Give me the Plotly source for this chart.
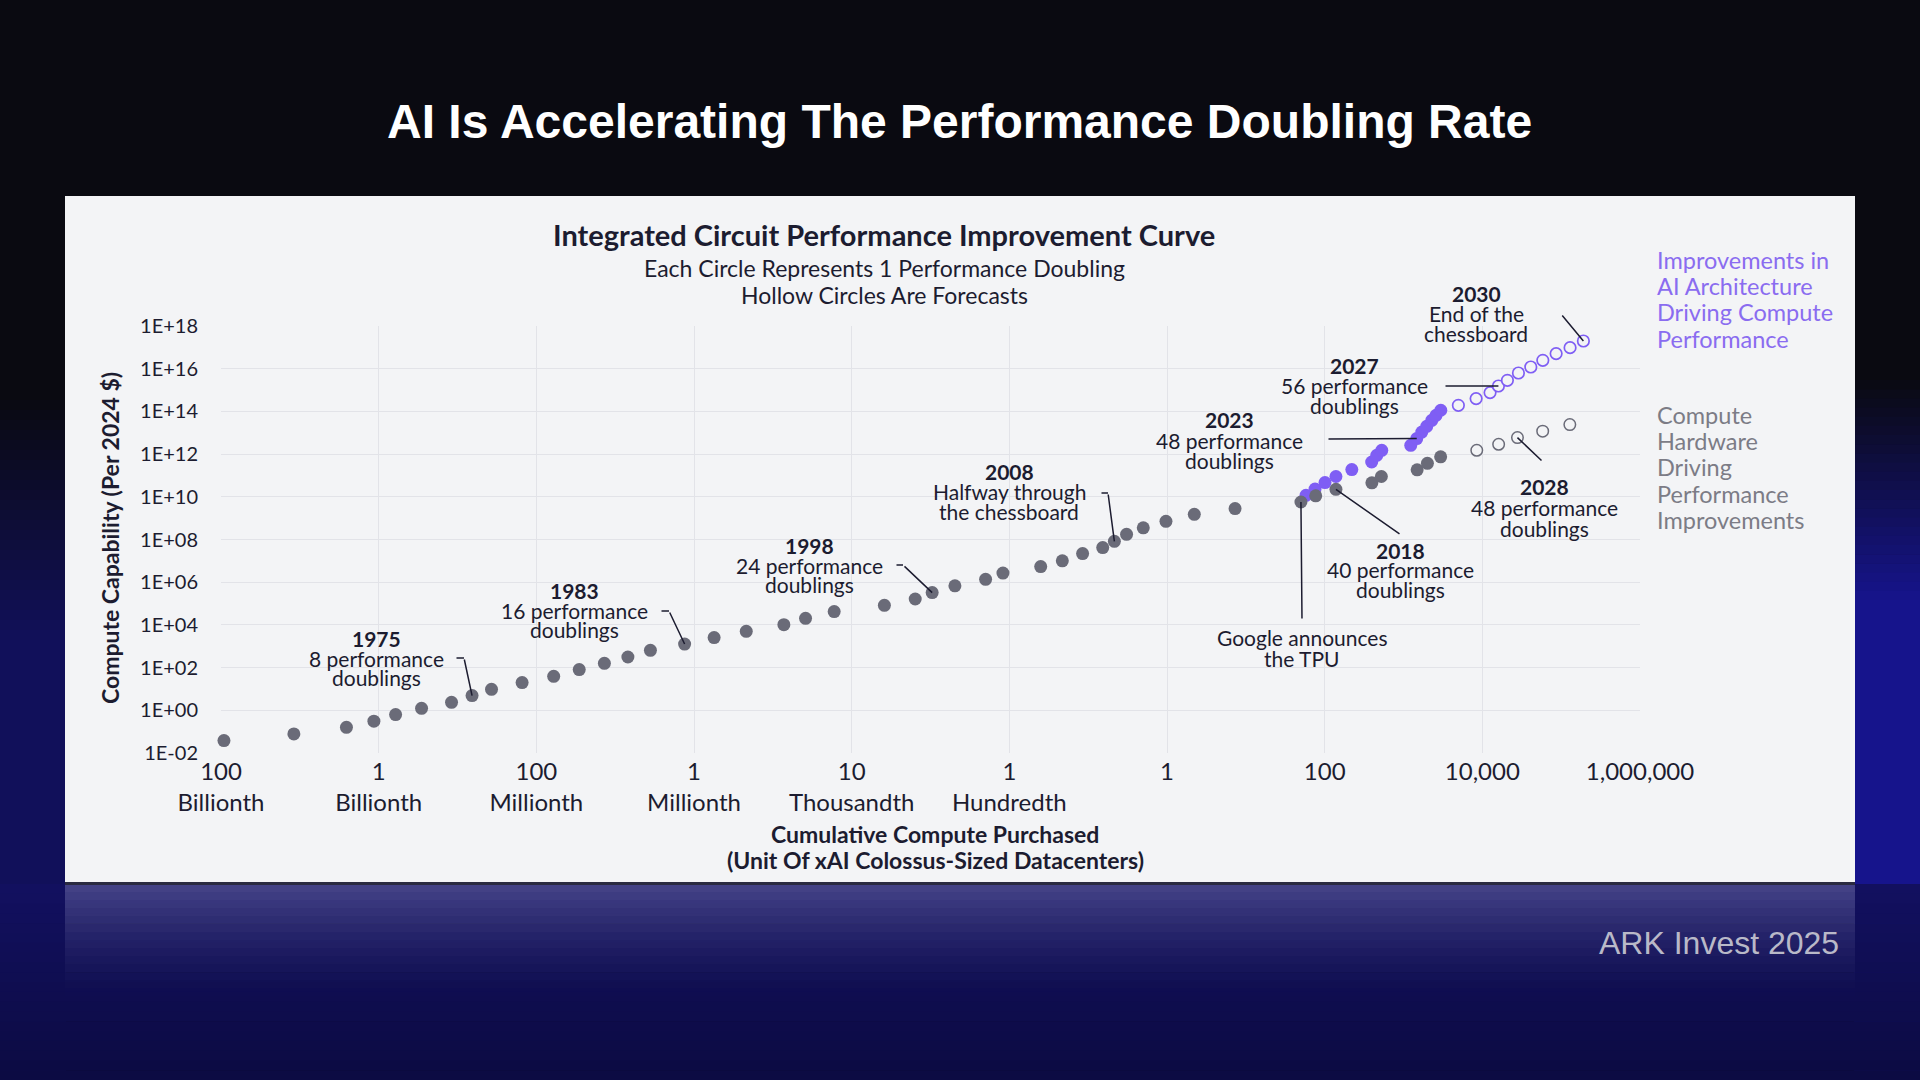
import math
import plotly.graph_objects as go

# ---------------- DATA ----------------
# Compute hardware driving performance (gray), actual doublings 1..45
gray_x = [1.09e-12, 8.4e-12, 3.9e-11, 8.7e-11, 1.64e-10, 3.5e-10, 8.4e-10, 1.53e-9, 2.7e-9, 6.6e-9,
          1.66e-8, 3.5e-8, 7.3e-8, 1.45e-7, 2.8e-7, 7.6e-7, 1.8e-6, 4.6e-6, 1.38e-5, 2.6e-5,
          6.0e-5, 2.6e-4, 6.4e-4, 1.05e-3, 2.04e-3, 5.0e-3, 8.3e-3, 0.025, 0.047, 0.085,
          0.153, 0.215, 0.307, 0.50, 0.97, 2.22, 7.3, 50, 77, 139,
          397, 524, 1490, 2010, 2960]
gray_y = [0.038, 0.078, 0.16, 0.31, 0.63, 1.24, 2.37, 4.9, 9.6, 19.8,
          39, 81, 159, 313, 646, 1270, 2540, 5010, 10300, 20400,
          42000, 82800, 163000, 326000, 678000, 1.37e6, 2.67e6, 5.38e6, 1.0e7, 2.19e7,
          4.18e7, 8.24e7, 1.75e8, 3.53e8, 7.11e8, 1.51e9, 2.8e9, 5.7e9, 1.11e10, 2.24e10,
          4.53e10, 8.93e10, 1.84e11, 3.71e11, 7.48e11]
# Gray forecasts (hollow)
gray_fc_x = [8500, 16100, 27900, 58300, 128800]
gray_fc_y = [1.51e12, 2.88e12, 5.93e12, 1.19e13, 2.41e13]

# AI architecture driving compute performance (purple), actual
purple_x = [58, 75.5, 101, 139, 221, 395, 458, 530, 1236, 1472, 1706, 1972, 2285, 2588, 2972]
purple_y = [1.17e10, 2.32e10, 4.62e10, 8.93e10, 1.88e11, 4.27e11, 8.79e11, 1.51e12,
            2.58e12, 5.32e12, 1.08e13, 2.0e13, 3.83e13, 6.56e13, 1.13e14]
# Purple forecasts (hollow)
purple_fc_x = [4966, 8337, 12530, 16000, 20800, 28700, 41200, 58500, 86300, 129700, 191400]
purple_fc_y = [1.93e14, 3.98e14, 7.6e14, 1.55e15, 2.86e15, 6.3e15, 1.2e16, 2.47e16, 5.1e16, 9.7e16, 1.98e17]

x_tickvals = [1e-12, 1e-10, 1e-8, 1e-6, 1e-4, 1e-2, 1, 100, 1e4, 1e6]
x_ticktext = ["100<br>Billionth", "1<br>Billionth", "100<br>Millionth", "1<br>Millionth",
              "10<br>Thousandth", "1<br>Hundredth", "1", "100", "10,000", "1,000,000"]
y_tickvals = [1e-2, 1, 1e2, 1e4, 1e6, 1e8, 1e10, 1e12, 1e14, 1e16, 1e18]
y_ticktext = ["1E-02", "1E+00", "1E+02", "1E+04", "1E+06", "1E+08", "1E+10",
              "1E+12", "1E+14", "1E+16", "1E+18"]

# ---------------- LAYOUT GEOMETRY ----------------
W, H = 1920, 1080
L, R, T, B = 221, 280, 326, 327
PW, PH = W - L - R, H - T - B
X_LOG = (-12, 6)
Y_LOG = (-2, 18)

GRAY = "#6a6b78"
PURPLE = "#7f5ef4"
CARD = "#f3f4f6"
INK = "#1c1c30"
FONT = "Lato"
ANN = 21


def fx(px):
    return (px - L) / PW


def fy(py):
    return (H - B - py) / PH


def lx(px):
    return X_LOG[0] + (px - L) / PW * (X_LOG[1] - X_LOG[0])


def ly(py):
    return Y_LOG[1] - (py - T) / PH * (Y_LOG[1] - Y_LOG[0])


fig = go.Figure()

# purple first (gray sits on top where they overlap)
fig.add_trace(go.Scatter(x=purple_x, y=purple_y, mode="markers", cliponaxis=False,
                         marker=dict(size=13, color=PURPLE, line=dict(width=0)),
                         hoverinfo="skip", showlegend=False))
fig.add_trace(go.Scatter(x=purple_fc_x, y=purple_fc_y, mode="markers", cliponaxis=False,
                         marker=dict(size=11.5, color=CARD, line=dict(width=1.7, color=PURPLE)),
                         hoverinfo="skip", showlegend=False))
fig.add_trace(go.Scatter(x=gray_x, y=gray_y, mode="markers", cliponaxis=False,
                         marker=dict(size=13, color=GRAY, line=dict(width=0)),
                         hoverinfo="skip", showlegend=False))
fig.add_trace(go.Scatter(x=gray_fc_x, y=gray_fc_y, mode="markers", cliponaxis=False,
                         marker=dict(size=11.5, color=CARD, line=dict(width=1.5, color=GRAY)),
                         hoverinfo="skip", showlegend=False))

shapes = []


def prect(x0, y0, x1, y1, color):
    shapes.append(dict(type="rect", xref="paper", yref="paper", x0=fx(x0), x1=fx(x1),
                       y0=fy(y1), y1=fy(y0), fillcolor=color, line=dict(width=0), layer="below"))


def mix(c0, c1, t):
    a = [int(c0[i:i + 2], 16) for i in (1, 3, 5)]
    b = [int(c1[i:i + 2], 16) for i in (1, 3, 5)]
    return "#" + "".join(f"{round(p + (q - p) * t):02x}" for p, q in zip(a, b))


def vgrad(x0, x1, y0, y1, c0, c1, n=24):
    step = (y1 - y0) / n
    for i in range(n):
        prect(x0, y0 + i * step, x1, y0 + (i + 1) * step + 0.5, mix(c0, c1, (i + 0.5) / n))


BG = "#0a0a11"
# left side of slide
vgrad(0, 66, 400, 640, BG, "#11105a")
prect(0, 640, 66, H, "#11105a")
# right side of slide
vgrad(1854, W, 380, 600, BG, "#16148c")
prect(1854, 600, W, H, "#16148c")
# bottom strip below card
vgrad(0, W, 884, H, "#121060", "#0c0b42", n=20)
# reflection under card
for i in range(14):
    a = 0.32 * (1 - i / 14) ** 1.5
    prect(65, 884 + i * 8, 1855, 884 + (i + 1) * 8, f"rgba(170,170,215,{a:.3f})")
# card
prect(65, 196, 1855, 884, CARD)
prect(65, 882, 1855, 885, "#2a2a40")

annotations = []


def txt(s, px, py, size, color=INK, xanchor="center", family=FONT, angle=0):
    annotations.append(dict(text=s, x=fx(px), y=fy(py), xref="paper", yref="paper",
                            showarrow=False, xanchor=xanchor, yanchor="middle",
                            textangle=angle, font=dict(family=family, size=size, color=color)))


def block(lines, cx, ys, size=ANN):
    for i, (s, y) in enumerate(zip(lines, ys)):
        txt(f"<b>{s}</b>" if i == 0 else s, cx, y, size)


def arrow(hx, hy, tail_px, tail_py):
    """Leader line from a data point (hx, hy) to a pixel position."""
    annotations.append(dict(text="", x=math.log10(hx), y=math.log10(hy), xref="x", yref="y",
                            axref="x", ayref="y", ax=lx(tail_px), ay=ly(tail_py),
                            showarrow=True, arrowhead=0, arrowwidth=1.5, arrowcolor=INK,
                            standoff=0, startstandoff=0))


def tick(px0, px1, py):
    annotations.append(dict(text="", x=lx(px1), y=ly(py), xref="x", yref="y",
                            axref="x", ayref="y", ax=lx(px0), ay=ly(py),
                            showarrow=True, arrowhead=0, arrowwidth=1.5, arrowcolor=INK,
                            standoff=0, startstandoff=0))


# titles
txt("<b>AI Is Accelerating The Performance Doubling Rate</b>", 959, 122, 48, "#ffffff",
    family="Liberation Sans")
txt("<b>Integrated Circuit Performance Improvement Curve</b>", 884, 234, 29)
txt("Each Circle Represents 1 Performance Doubling", 884, 268, 23)
txt("Hollow Circles Are Forecasts", 884, 295, 23)

# axis titles
txt("<b>Compute Capability (Per 2024 $)</b>", 110, 538, 23, angle=-90)
txt("<b>Cumulative Compute Purchased</b>", 935, 834, 23)
txt("<b>(Unit Of xAI Colossus-Sized Datacenters)</b>", 935, 860, 23)

# legend-like labels
for i, s in enumerate(["Improvements in", "AI Architecture", "Driving Compute", "Performance"]):
    txt(s, 1655, 260 + i * 26.2, 23.5, "#8a6cf0", xanchor="left")
for i, s in enumerate(["Compute", "Hardware", "Driving", "Performance", "Improvements"]):
    txt(s, 1655, 415 + i * 26.2, 23.5, "#7c7c86", xanchor="left")

txt("ARK Invest 2025", 1841, 943, 32, "#b9b9c8", xanchor="right", family="Liberation Sans")

# event annotations
block(["1975", "8 performance", "doublings"], 376, [638, 658, 677])
tick(455, 464, 658)
arrow(gray_x[7], gray_y[7], 464, 658)

block(["1983", "16 performance", "doublings"], 574, [590, 610, 629])
tick(660, 669, 611)
arrow(gray_x[15], gray_y[15], 669, 611)

block(["1998", "24 performance", "doublings"], 809, [545, 565, 584])
tick(895, 903, 565)
arrow(gray_x[23], gray_y[23], 903, 565)

block(["2008", "Halfway through", "the chessboard"], 1009, [471, 491, 511])
tick(1100, 1108, 493)
arrow(gray_x[31], gray_y[31], 1108, 493)

block(["2023", "48 performance", "doublings"], 1229, [419, 440, 460])
arrow(purple_x[9], purple_y[9], 1327, 439)

block(["2027", "56 performance", "doublings"], 1354, [365, 385, 405])
arrow(purple_fc_x[3], purple_fc_y[3], 1444, 386)

block(["2030", "End of the", "chessboard"], 1476, [294, 313, 333])
tick(1551, 1561, 314)
arrow(purple_fc_x[10], purple_fc_y[10], 1561, 314)

block(["2018", "40 performance", "doublings"], 1400, [550, 569, 589])
arrow(gray_x[39], gray_y[39], 1401, 535)

txt("Google announces", 1302, 637, ANN)
txt("the TPU", 1302, 658, ANN)
arrow(gray_x[37], gray_y[37], 1302, 620)

block(["2028", "48 performance", "doublings"], 1544, [486, 507, 528])
arrow(gray_fc_x[2], gray_fc_y[2], 1543, 462)

fig.update_layout(
    width=W, height=H, autosize=False,
    margin=dict(l=L, r=R, t=T, b=B, pad=0),
    paper_bgcolor=BG, plot_bgcolor="rgba(0,0,0,0)",
    font=dict(family=FONT, color=INK),
    showlegend=False,
    shapes=shapes, annotations=annotations,
    xaxis=dict(type="log", range=list(X_LOG), tickvals=x_tickvals, ticktext=x_ticktext,
               showgrid=True, gridcolor="#e2e3e8", gridwidth=1, zeroline=False, showline=False,
               ticks="", tickfont=dict(family=FONT, size=24, color=INK), ticklabelstandoff=2),
    yaxis=dict(type="log", range=list(Y_LOG), tickvals=y_tickvals, ticktext=y_ticktext,
               showgrid=True, gridcolor="#e2e3e8", gridwidth=1, zeroline=False, showline=False,
               ticks="", tickfont=dict(family=FONT, size=20, color=INK), ticklabelstandoff=22),
)

fig.write_html("out.html", config={"displayModeBar": False},
               post_script="document.body.style.margin='0';document.body.style.overflow='hidden';")
